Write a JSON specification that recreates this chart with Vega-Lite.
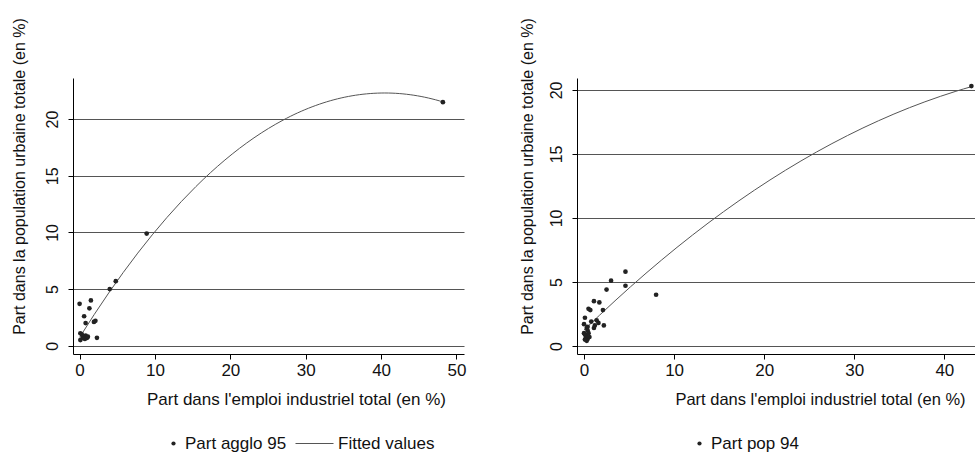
{
  "$schema": "https://vega.github.io/schema/vega-lite/v6.json",
  "background": "white",
  "padding": {"left": 10, "top": 17, "right": 0, "bottom": 0},
  "spacing": 52,
  "datasets": {
    "agglo": [
      {"x": 48.2, "y": 21.5}, {"x": 8.9, "y": 9.9}, {"x": 4.8, "y": 5.7}, {"x": 4.0, "y": 5.0},
      {"x": 0.0, "y": 3.7}, {"x": 1.5, "y": 4.0}, {"x": 1.3, "y": 3.3}, {"x": 0.6, "y": 2.6},
      {"x": 0.8, "y": 2.0}, {"x": 2.1, "y": 2.2}, {"x": 1.9, "y": 2.1}, {"x": 0.1, "y": 1.1},
      {"x": 2.3, "y": 0.7}, {"x": 0.1, "y": 0.5}, {"x": 0.5, "y": 0.8}, {"x": 0.8, "y": 0.9},
      {"x": 1.0, "y": 0.7}, {"x": 0.7, "y": 0.6}, {"x": 0.4, "y": 0.7}, {"x": 1.1, "y": 0.8},
      {"x": 0.3, "y": 1.0}
    ],
    "pop": [
      {"x": 43.0, "y": 20.3}, {"x": 4.6, "y": 5.8}, {"x": 3.0, "y": 5.1}, {"x": 2.5, "y": 4.4},
      {"x": 4.6, "y": 4.7}, {"x": 8.0, "y": 4.0}, {"x": 1.1, "y": 3.5}, {"x": 1.7, "y": 3.4},
      {"x": 0.5, "y": 2.9}, {"x": 0.7, "y": 2.8}, {"x": 2.1, "y": 2.8}, {"x": 0.1, "y": 2.2},
      {"x": 0.8, "y": 1.9}, {"x": 1.4, "y": 2.0}, {"x": 1.6, "y": 1.8}, {"x": 0.0, "y": 1.7},
      {"x": 2.2, "y": 1.6}, {"x": 1.1, "y": 1.4}, {"x": 0.4, "y": 1.5}, {"x": 1.2, "y": 1.6},
      {"x": 0.3, "y": 1.4}, {"x": 0.4, "y": 1.2}, {"x": 0.1, "y": 0.9}, {"x": 0.2, "y": 0.6},
      {"x": 0.3, "y": 0.4}, {"x": 0.4, "y": 0.55}, {"x": 0.1, "y": 0.5}, {"x": 0.0, "y": 1.0},
      {"x": 0.2, "y": 0.8}, {"x": 0.6, "y": 0.7}, {"x": 0.5, "y": 1.0}
    ]
  },
  "hconcat": [
    {
      "width": 391,
      "height": 276,
      "data": {"name": "agglo"},
      "layer": [
        {
          "transform": [{"regression": "y", "on": "x", "method": "poly", "order": 2}],
          "mark": {"type": "line", "strokeWidth": 1},
          "encoding": {
            "x": {"field": "x", "type": "quantitative"},
            "y": {"field": "y", "type": "quantitative"},
            "color": {
              "datum": "Fitted values",
              "scale": {"range": ["#555555"]},
              "legend": {
                "orient": "none", "legendX": 222, "legendY": 346, "title": null,
                "symbolType": "stroke", "symbolSize": 1444, "symbolStrokeWidth": 1,
                "symbolStrokeColor": "#333333", "labelOffset": 4,
                "labelFont": "Liberation Sans", "labelFontSize": 17, "labelColor": "#111111"
              }
            }
          }
        },
        {
          "mark": {"type": "point", "filled": true, "size": 22, "color": "#222222", "opacity": 1},
          "encoding": {
            "x": {
              "field": "x", "type": "quantitative",
              "scale": {"domain": [-0.875, 51], "nice": false, "zero": false},
              "axis": {
                "values": [0, 10, 20, 30, 40, 50],
                "title": "Part dans l'emploi industriel total (en %)",
                "titleX": 223, "titleAlign": "center"
              }
            },
            "y": {
              "field": "y", "type": "quantitative",
              "scale": {"domain": [-0.73, 23.63], "nice": false, "zero": false},
              "axis": {
                "values": [0, 5, 10, 15, 20],
                "title": "Part dans la population urbaine totale (en %)",
                "titleX": -54, "titleY": 98, "titleAlign": "center"
              }
            },
            "shape": {
              "datum": "Part agglo 95",
              "scale": {"range": ["circle"]},
              "legend": {
                "orient": "none", "legendX": 92, "legendY": 357, "title": null,
                "symbolSize": 18, "symbolFillColor": "#222222", "symbolStrokeWidth": 0,
                "labelOffset": 3,
                "labelFont": "Liberation Sans", "labelFontSize": 17, "labelColor": "#111111"
              }
            }
          }
        }
      ]
    },
    {
      "width": 398,
      "height": 276,
      "data": {"name": "pop"},
      "layer": [
        {
          "transform": [{"regression": "y", "on": "x", "method": "poly", "order": 2}],
          "mark": {"type": "line", "strokeWidth": 1, "color": "#555555"},
          "encoding": {
            "x": {"field": "x", "type": "quantitative"},
            "y": {"field": "y", "type": "quantitative"}
          }
        },
        {
          "mark": {"type": "point", "filled": true, "size": 22, "color": "#222222", "opacity": 1},
          "encoding": {
            "x": {
              "field": "x", "type": "quantitative",
              "scale": {"domain": [-0.78, 43.4], "nice": false, "zero": false},
              "axis": {
                "values": [0, 10, 20, 30, 40],
                "title": "Part dans l'emploi industriel total (en %)",
                "titleX": 243, "titleAlign": "center", "titleFontSize": 16.5
              }
            },
            "y": {
              "field": "y", "type": "quantitative",
              "scale": {"domain": [-0.63, 20.93], "nice": false, "zero": false},
              "axis": {
                "values": [0, 5, 10, 15, 20],
                "title": "Part dans la population urbaine totale (en %)",
                "titleX": -50, "titleY": 98, "titleAlign": "center"
              }
            },
            "shape": {
              "datum": "Part pop 94",
              "scale": {"range": ["circle"]},
              "legend": {
                "orient": "none", "legendX": 114, "legendY": 357, "title": null,
                "symbolSize": 18, "symbolFillColor": "#222222", "symbolStrokeWidth": 0,
                "labelOffset": 3,
                "labelFont": "Liberation Sans", "labelFontSize": 17, "labelColor": "#111111"
              }
            }
          }
        }
      ]
    }
  ],
  "resolve": {
    "scale": {"shape": "independent", "color": "independent"},
    "legend": {"shape": "independent", "color": "independent"}
  },
  "config": {
    "view": {"stroke": null},
    "axisX": {
      "grid": false,
      "domainColor": "#000000",
      "tickColor": "#000000",
      "tickSize": 5,
      "labelFont": "Liberation Sans",
      "labelFontSize": 17,
      "labelColor": "#111111",
      "labelPadding": 3,
      "labelFlush": false,
      "titleFont": "Liberation Sans",
      "titleFontSize": 17,
      "titleFontWeight": "normal",
      "titleColor": "#111111",
      "titlePadding": 13
    },
    "axisY": {
      "grid": true,
      "gridColor": "#555555",
      "gridWidth": 1.2,
      "domainColor": "#000000",
      "tickColor": "#000000",
      "tickSize": 5,
      "labelFont": "Liberation Sans",
      "labelFontSize": 16,
      "labelColor": "#111111",
      "labelAngle": -90,
      "labelPadding": 8,
      "labelFlush": false,
      "titleFont": "Liberation Sans",
      "titleFontSize": 16,
      "titleFontWeight": "normal",
      "titleColor": "#111111",
      "titleBaseline": "middle"
    }
  }
}
